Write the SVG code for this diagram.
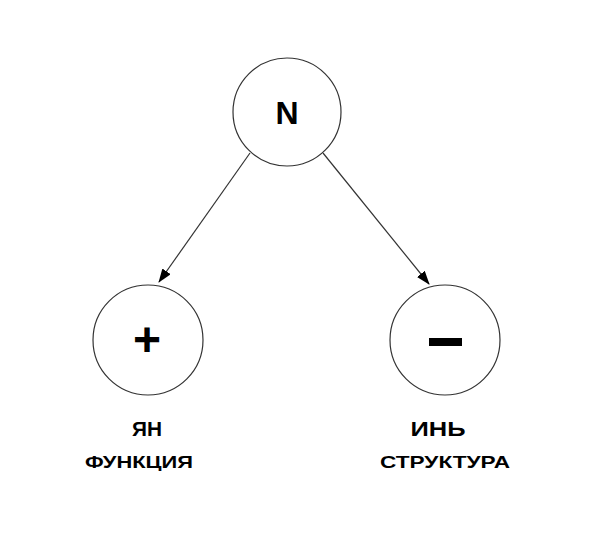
<svg xmlns="http://www.w3.org/2000/svg" width="609" height="539" viewBox="0 0 609 539">
<style>
.c{fill:#fff;stroke:#333;stroke-width:1.2}
.l{stroke:#333;stroke-width:1.2;fill:none}
text{font-family:"Liberation Sans",Arial,sans-serif;font-weight:bold;fill:#000;text-anchor:middle}
</style>
<defs><marker id="a" markerWidth="14" markerHeight="10" refX="13" refY="5" orient="auto" markerUnits="userSpaceOnUse"><path d="M0,0L14,5L0,10z" fill="#000"/></marker></defs>
<rect width="609" height="539" fill="#fff"/>
<g id="connectors">
<line class="l" x1="250" y1="153" x2="159" y2="282" marker-end="url(#a)"/>
<line class="l" x1="323" y1="153" x2="429" y2="284" marker-end="url(#a)"/>
</g>
<g id="N"><circle class="c" cx="287" cy="112" r="54"/><text x="287" y="124" font-size="32">N</text></g>
<g id="plus"><circle class="c" cx="148" cy="340" r="55"/><text x="147" y="356" font-size="48">+</text></g>
<g id="minus"><circle class="c" cx="445" cy="340" r="55"/><rect x="429" y="338" width="33" height="8" fill="#000"/></g>
<g id="yang"><text x="147" y="436" font-size="21" textLength="30" lengthAdjust="spacingAndGlyphs">ЯН</text><text x="139" y="468" font-size="17" textLength="108" lengthAdjust="spacingAndGlyphs">ФУНКЦИЯ</text></g>
<g id="yin"><text x="438" y="436" font-size="21" textLength="55" lengthAdjust="spacingAndGlyphs">ИНЬ</text><text x="445" y="468" font-size="17" textLength="130" lengthAdjust="spacingAndGlyphs">СТРУКТУРА</text></g>
</svg>
